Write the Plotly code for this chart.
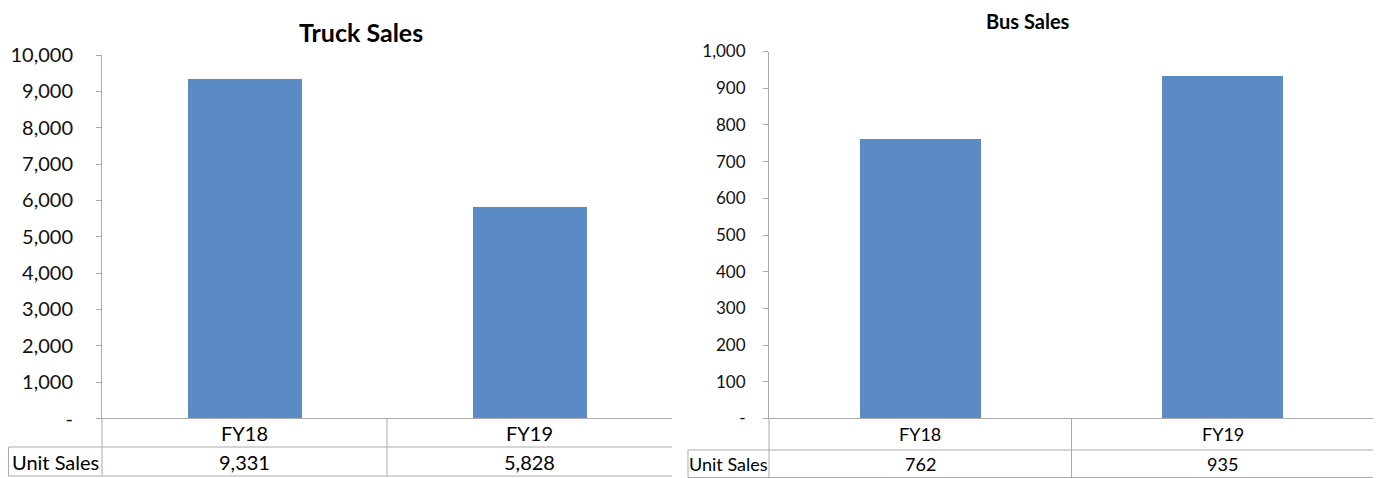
import plotly.graph_objects as go

# ---------------- data ----------------
categories = ["FY18", "FY19"]
truck_sales = [9331, 5828]
bus_sales = [762, 935]
truck_ticks = [0, 1000, 2000, 3000, 4000, 5000, 6000, 7000, 8000, 9000, 10000]
bus_ticks = [0, 100, 200, 300, 400, 500, 600, 700, 800, 900, 1000]
row_label = "Unit Sales"
truck_title = "Truck Sales"
bus_title = "Bus Sales"

# ---------------- layout helpers ----------------
OFF = 8                      # default page body margin
W, H = 1381 - OFF, 478 - OFF
BAR = "#5B8BC4"
GRID = "#ABABAB"
FONT_L = "Lato, 'Open Sans', sans-serif"


def px(x):
    return (x - OFF) / W


def py(y):
    return 1 - (y - OFF) / H


def fmt(v):
    return "-" if v == 0 else f"{v:,}"


fig = go.Figure()

panels = [
    dict(xa="x", ya="y", xl=102, xr=672, ytop=55, ybot=418.5, vals=truck_sales,
         ticks=truck_ticks, title=truck_title, tx=361, ty=32, tsize=25,
         ticksize=20, standoff=19, hdr_bot=447, tbl_bot=476, lab_left=8.5,
         tblsize=20, right_border=False),
    dict(xa="x2", ya="y2", xl=769, xr=1374, ytop=51.5, ybot=418.5, vals=bus_sales,
         ticks=bus_ticks, title=bus_title, tx=1028, ty=None, tsize=20,
         ticksize=17, standoff=14, hdr_bot=450, tbl_bot=477.5, lab_left=688,
         tblsize=18, right_border=True),
]

shapes = []
annotations = []

for i, p in enumerate(panels):
    fig.add_trace(go.Bar(
        x=categories, y=p["vals"], xaxis=p["xa"], yaxis=p["ya"],
        marker=dict(color=BAR, line=dict(width=0)), width=0.4,
        showlegend=False, hoverinfo="x+y",
    ))
    suffix = "" if i == 0 else "2"
    fig.layout["xaxis" + suffix] = dict(
        domain=[px(p["xl"]), px(p["xr"])], anchor="y" + suffix,
        range=[-0.5, len(categories) - 0.5], showticklabels=False,
        showgrid=False, zeroline=False, showline=False, ticks="",
        fixedrange=True, automargin=False,
    )
    fig.layout["yaxis" + suffix] = dict(
        domain=[py(p["ybot"]), py(p["ytop"])], anchor="x" + suffix,
        range=[0, p["ticks"][-1]], tickvals=p["ticks"],
        ticktext=[fmt(t) for t in p["ticks"]],
        ticks="outside", ticklen=5, tickcolor=GRID, tickwidth=1,
        showline=True, linecolor=GRID, linewidth=1,
        showgrid=False, zeroline=False,
        tickfont=dict(family=FONT_L, size=p["ticksize"], color="#111"),
        ticklabelstandoff=p["standoff"], fixedrange=True, automargin=False,
    )

    xl, xr = p["xl"], p["xr"]
    n = len(categories)
    colw = (xr - xl) / n
    ybot, hdr, tb = p["ybot"], p["hdr_bot"], p["tbl_bot"]

    def line(x0, y0, x1, y1):
        shapes.append(dict(type="line", xref="paper", yref="paper",
                           x0=px(x0), y0=py(y0), x1=px(x1), y1=py(y1),
                           line=dict(color=GRID, width=1)))

    # category axis line (top of table)
    line(xl, ybot, xr, ybot)
    # header / data separator, bottom border
    line(p["lab_left"], hdr, xr, hdr)
    line(p["lab_left"], tb, xr, tb)
    # verticals
    line(p["lab_left"], hdr, p["lab_left"], tb)
    line(xl, ybot, xl, tb)
    for k in range(1, n):
        line(xl + k * colw, ybot, xl + k * colw, tb)
    if p["right_border"]:
        line(xr, ybot, xr, tb)

    # title
    if p["ty"] is None:
        ty, yanc = 1.0, "top"
    else:
        ty, yanc = py(p["ty"]), "middle"
    annotations.append(dict(text=f"<b>{p['title']}</b>", xref="paper", yref="paper",
                            x=px(p["tx"]), y=ty, showarrow=False,
                            xanchor="center", yanchor=yanc, borderpad=0,
                            font=dict(family=FONT_L, size=p["tsize"], color="#000")))
    # table text
    fs = p["tblsize"]
    for k, (c, v) in enumerate(zip(categories, p["vals"])):
        cx = xl + (k + 0.5) * colw
        annotations.append(dict(text=c, xref="paper", yref="paper", x=px(cx),
                                y=py((ybot + hdr) / 2), showarrow=False,
                                xanchor="center", yanchor="middle",
                                font=dict(family=FONT_L, size=fs, color="#000")))
        annotations.append(dict(text=fmt(v), xref="paper", yref="paper", x=px(cx),
                                y=py((hdr + tb) / 2), showarrow=False,
                                xanchor="center", yanchor="middle",
                                font=dict(family=FONT_L, size=fs, color="#000")))
    annotations.append(dict(text=row_label, xref="paper", yref="paper",
                            x=px((p["lab_left"] + xl) / 2), y=py((hdr + tb) / 2),
                            showarrow=False, xanchor="center", yanchor="middle",
                            font=dict(family=FONT_L, size=fs, color="#000")))

fig.update_layout(
    width=W, height=H, autosize=False,
    margin=dict(l=0, r=0, t=0, b=0),
    paper_bgcolor="white", plot_bgcolor="white",
    shapes=shapes, annotations=annotations, bargap=0,
)

fig.write_html("out.html")
